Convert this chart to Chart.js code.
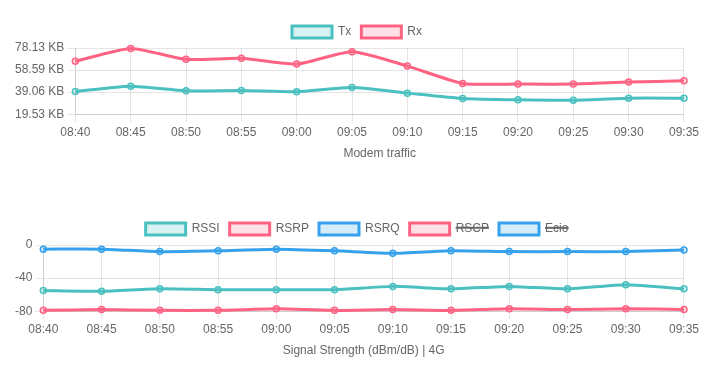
<!DOCTYPE html>
<html>
<head>
<meta charset="utf-8">
<script src="https://cdn.jsdelivr.net/npm/chart.js@4/dist/chart.umd.min.js"></script>
<style>
  html, body { margin: 0; padding: 0; background: #fff; width: 715px; height: 381px; overflow: hidden; }
  .box { position: absolute; left: 12px; width: 690px; height: 149px; }
  #b1 { top: 16px; }
  #b2 { top: 213px; }
</style>
</head>
<body>
<div class="box" id="b1"><canvas id="c1"></canvas></div>
<div class="box" id="b2"><canvas id="c2"></canvas></div>
<script>
const times = ["08:40","08:45","08:50","08:55","09:00","09:05","09:10","09:15","09:20","09:25","09:30","09:35"];

// Modem traffic (bytes)
const txBytes = [40600, 45400, 41200, 41500, 40300, 44200, 39100, 34200, 33000, 32700, 34500, 34500];
const rxBytes = [67900, 79600, 69700, 70600, 65400, 76600, 63600, 47900, 47300, 47300, 49100, 50300];
const trafficTicks = [20000, 40000, 60000, 80000];

// Signal strength (dBm / dB), 4G
const rssi = [-55, -56, -53, -54, -54, -54, -50, -53, -50, -53, -48, -53];
const rsrp = [-79, -78, -79, -79, -77, -79, -78, -79, -77, -78, -77, -78];
const rsrq = [-5, -5, -8, -7, -5, -7, -10, -7, -8, -8, -8, -6];
const rscp = [];
const ecio = [];
const signalTicks = [-80, -40, 0];

const TEAL = 'rgb(75, 192, 192)', TEAL_BG = 'rgba(75, 192, 192, 0.2)';
const RED = 'rgb(255, 99, 132)', RED_BG = 'rgba(255, 99, 132, 0.2)';
const BLUE = 'rgb(54, 162, 235)', BLUE_BG = 'rgba(54, 162, 235, 0.2)';

Chart.defaults.font.family = "Arial, 'Liberation Sans', Helvetica, sans-serif";
Chart.defaults.font.size = 12;
Chart.defaults.color = '#666';

function ds(label, data, c, bg, hidden) {
  return {
    label, data, borderColor: c, backgroundColor: bg, hidden: !!hidden,
    borderWidth: 3, fill: false, tension: 0.2, clip: false,
    pointRadius: 3, pointBorderWidth: 1.5, pointBackgroundColor: bg, pointBorderColor: c
  };
}

const grid = { color: 'rgba(0,0,0,0.1)', tickLength: 8 };

function opts(title, ticks, fmt) {
  return {
    responsive: true, maintainAspectRatio: false, animation: false,
    plugins: {
      legend: { position: 'top', labels: { boxWidth: 40, color: '#666' } },
      tooltip: { enabled: false }
    },
    scales: {
      x: { grid: grid, ticks: { maxRotation: 0, color: '#666' },
           title: { display: true, text: title, color: '#666' } },
      y: { min: ticks[0], max: ticks[ticks.length - 1],
           grid: grid,
           afterBuildTicks: (s) => { s.ticks = ticks.map(v => ({ value: v })); },
           ticks: { color: '#666', callback: fmt } }
    }
  };
}

new Chart(document.getElementById('c1'), {
  type: 'line',
  data: { labels: times, datasets: [ds('Tx', txBytes, TEAL, TEAL_BG), ds('Rx', rxBytes, RED, RED_BG)] },
  options: opts('Modem traffic', trafficTicks, v => (v / 1024).toFixed(2) + ' KB')
});

new Chart(document.getElementById('c2'), {
  type: 'line',
  data: { labels: times, datasets: [
    ds('RSSI', rssi, TEAL, TEAL_BG),
    ds('RSRP', rsrp, RED, RED_BG),
    ds('RSRQ', rsrq, BLUE, BLUE_BG),
    ds('RSCP', rscp, RED, RED_BG, true),
    ds('Ecio', ecio, BLUE, BLUE_BG, true)
  ] },
  options: opts('Signal Strength (dBm/dB) | 4G', signalTicks, v => v)
});
</script>
</body>
</html>
